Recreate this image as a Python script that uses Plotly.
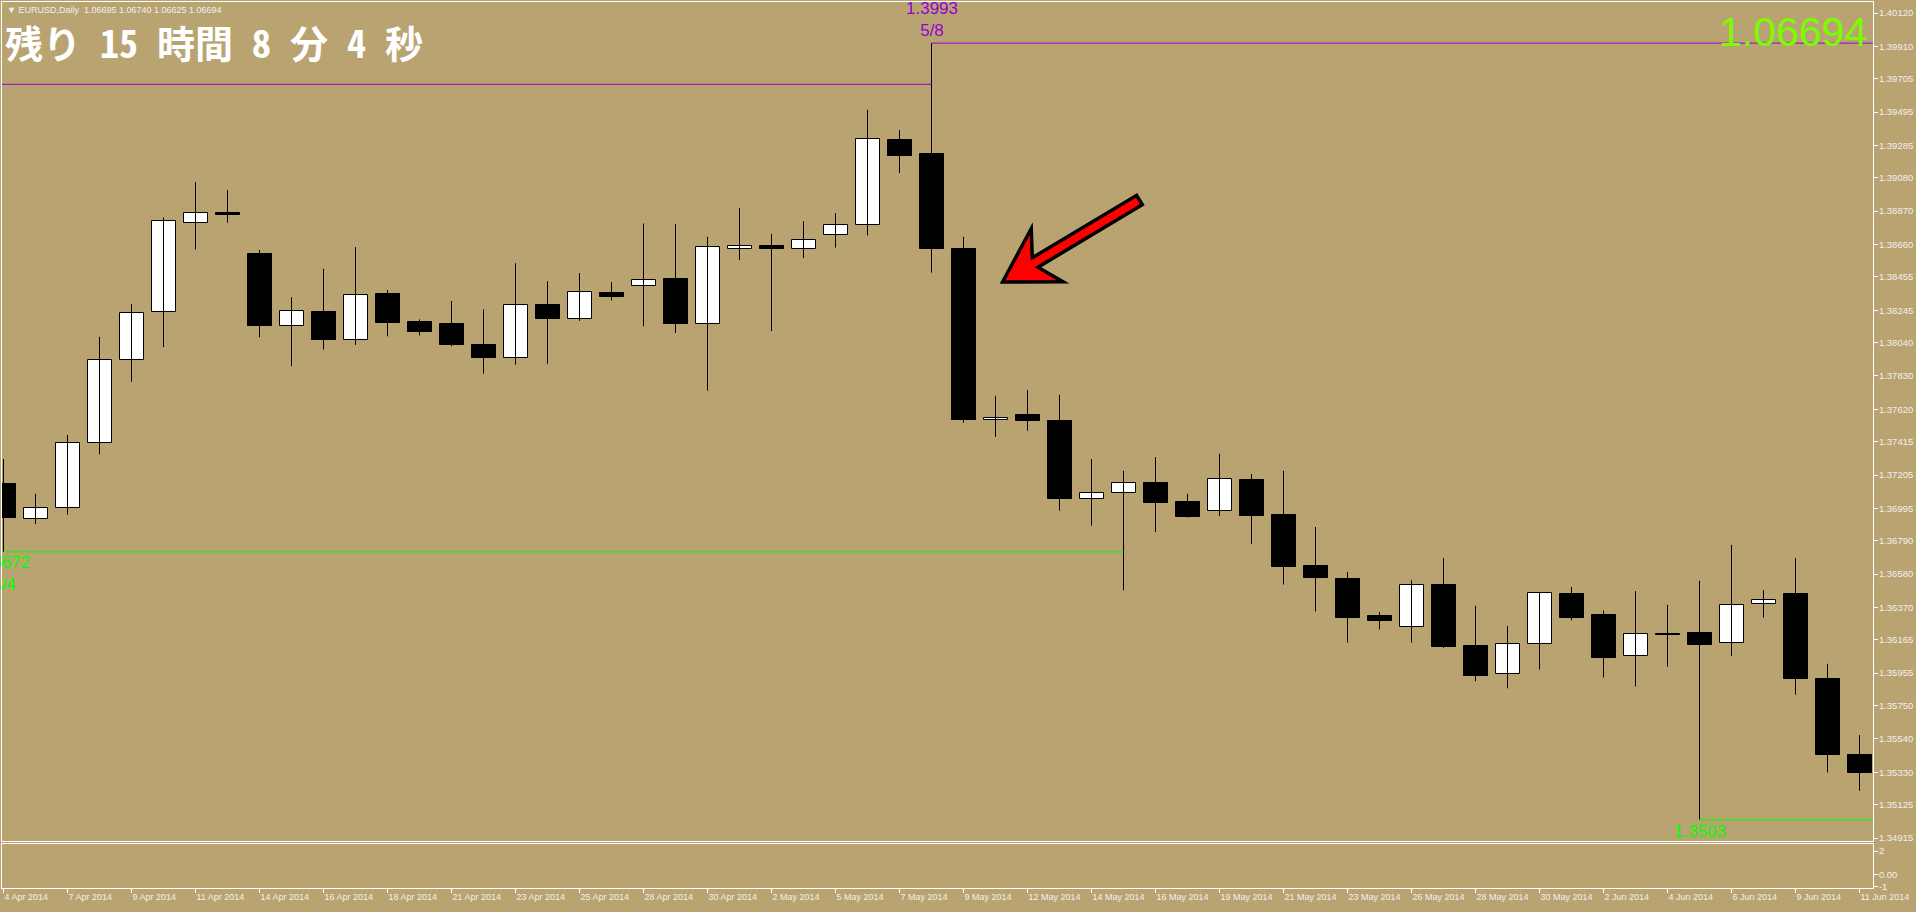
import plotly.graph_objects as go

# ---------------- data ----------------
bar_dates = ["4 Apr 2014", "6 Apr 2014", "7 Apr 2014", "8 Apr 2014", "9 Apr 2014", "10 Apr 2014",
             "11 Apr 2014", "13 Apr 2014", "14 Apr 2014", "15 Apr 2014", "16 Apr 2014", "17 Apr 2014",
             "18 Apr 2014", "20 Apr 2014", "21 Apr 2014", "22 Apr 2014", "23 Apr 2014", "24 Apr 2014",
             "25 Apr 2014", "27 Apr 2014", "28 Apr 2014", "29 Apr 2014", "30 Apr 2014", "1 May 2014",
             "2 May 2014", "4 May 2014", "5 May 2014", "6 May 2014", "7 May 2014", "8 May 2014",
             "9 May 2014", "11 May 2014", "12 May 2014", "13 May 2014", "14 May 2014", "15 May 2014",
             "16 May 2014", "18 May 2014", "19 May 2014", "20 May 2014", "21 May 2014", "22 May 2014",
             "23 May 2014", "25 May 2014", "26 May 2014", "27 May 2014", "28 May 2014", "29 May 2014",
             "30 May 2014", "1 Jun 2014", "2 Jun 2014", "3 Jun 2014", "4 Jun 2014", "5 Jun 2014",
             "6 Jun 2014", "8 Jun 2014", "9 Jun 2014", "10 Jun 2014", "11 Jun 2014"]

opens = [1.37148, 1.36925, 1.36999, 1.37407, 1.37928, 1.38232, 1.38797, 1.38860, 1.38598, 1.38148,
         1.38235, 1.38059, 1.38348, 1.38169, 1.38157, 1.38026, 1.37946, 1.38276, 1.38187, 1.38354,
         1.38396, 1.38443, 1.38160, 1.38634, 1.38649, 1.38634, 1.38717, 1.38780, 1.39318, 1.39229,
         1.38631, 1.37550, 1.37583, 1.37547, 1.37056, 1.37089, 1.37154, 1.37035, 1.36976, 1.37175,
         1.36952, 1.36630, 1.36550, 1.36315, 1.36246, 1.36511, 1.36127, 1.35948, 1.36136, 1.36455,
         1.36324, 1.36065, 1.36205, 1.36208, 1.36145, 1.36392, 1.36455, 1.35919, 1.35439]
highs = [1.37306, 1.37086, 1.37458, 1.38077, 1.38285, 1.38830, 1.39053, 1.39003, 1.38625, 1.38327,
         1.38506, 1.38643, 1.38372, 1.38187, 1.38303, 1.38250, 1.38541, 1.38428, 1.38479, 1.38422,
         1.38792, 1.38789, 1.38708, 1.38890, 1.38726, 1.38806, 1.38857, 1.39509, 1.39381, 1.39930,
         1.38708, 1.37705, 1.37741, 1.37711, 1.37306, 1.37232, 1.37318, 1.37086, 1.37339, 1.37211,
         1.37232, 1.36877, 1.36594, 1.36341, 1.36541, 1.36681, 1.36380, 1.36252, 1.36466, 1.36499,
         1.36350, 1.36472, 1.36386, 1.36538, 1.36764, 1.36478, 1.36681, 1.36014, 1.35564]
lows = [1.36720, 1.36895, 1.36955, 1.37336, 1.37794, 1.38012, 1.38628, 1.38797, 1.38074, 1.37892,
        1.37997, 1.38026, 1.38080, 1.38086, 1.38017, 1.37845, 1.37901, 1.37907, 1.38178, 1.38306,
        1.38143, 1.38101, 1.37738, 1.38562, 1.38113, 1.38574, 1.38640, 1.38717, 1.39110, 1.38482,
        1.37535, 1.37446, 1.37485, 1.36981, 1.36886, 1.36478, 1.36845, 1.36937, 1.36946, 1.36770,
        1.36514, 1.36344, 1.36148, 1.36231, 1.36148, 1.36115, 1.35904, 1.35859, 1.35978, 1.36288,
        1.35928, 1.35871, 1.35996, 1.35030, 1.36062, 1.36306, 1.35820, 1.35329, 1.35213]
closes = [1.36931, 1.36999, 1.37407, 1.37931, 1.38226, 1.38806, 1.38860, 1.38848, 1.38148, 1.38241,
          1.38059, 1.38342, 1.38166, 1.38110, 1.38023, 1.37946, 1.38276, 1.38187, 1.38360, 1.38330,
          1.38434, 1.38160, 1.38643, 1.38649, 1.38634, 1.38687, 1.38783, 1.39324, 1.39220, 1.38628,
          1.37550, 1.37565, 1.37544, 1.37056, 1.37089, 1.37154, 1.37029, 1.36943, 1.37181, 1.36949,
          1.36624, 1.36553, 1.36306, 1.36282, 1.36511, 1.36121, 1.35940, 1.36136, 1.36460, 1.36300,
          1.36053, 1.36202, 1.36198, 1.36130, 1.36386, 1.36416, 1.35916, 1.35436, 1.35326]

price_ticks = [1.40120, 1.39910, 1.39705, 1.39495, 1.39285, 1.39080, 1.38870, 1.38660, 1.38455,
               1.38245, 1.38040, 1.37830, 1.37620, 1.37415, 1.37205, 1.36995, 1.36790, 1.36580,
               1.36370, 1.36165, 1.35955, 1.35750, 1.35540, 1.35330, 1.35125, 1.34915]
time_tick_labels = bar_dates[::2]
sub_ticks = [2, 0, -1]
sub_tick_text = ["2", "0.00", "-1"]

high_level, high_date = 1.3993, "5/8"
low_level = 1.3503
prev_low_level, prev_low_date = 1.3672, "4/4"
prev_high_level = 1.3967
header_text = "▼ EURUSD,Daily  1.06695 1.06740 1.06625 1.06694"
countdown_text = "残り 15 時間 8 分 4 秒"
bid_text = "1.06694"

# arrow (bar index, price): tip and tail
arrow_tip = (31.22, 1.38423)
arrow_tail = (35.50, 1.38940)

# ---------------- styling / layout ----------------
BG = "rgb(185,164,113)"
FG = "#F0F0F0"
W, H = 1916, 912
ML, MR, MT, MB = 2, 43, 2, 24
PW, PH = W - ML - MR, H - MT - MB
MAIN_BOTTOM_PX, SUB_TOP_PX = 841, 844
main_dom = [(MT + PH - MAIN_BOTTOM_PX) / PH, 1.0]
sub_dom = [0.0, (MT + PH - SUB_TOP_PX) / PH]

PXB = 32.0  # px per bar
x0 = -(3.5 - ML) / PXB
x1 = x0 + PW / PXB
kpx = (price_ticks[0] - price_ticks[-1]) / (838 - 13)  # price per px
ymax = price_ticks[0] + (13 - MT) * kpx
ymin = price_ticks[-1] - (MAIN_BOTTOM_PX - 838) * kpx
PXP = 1.0 / kpx

n = len(opens)
idx = list(range(n))

# wicks
wx, wy = [], []
for i in idx:
    wx += [i, i, None]
    wy += [lows[i], highs[i], None]

base = [min(o, c) for o, c in zip(opens, closes)]
height = [max(abs(c - o), 0.00002) for o, c in zip(opens, closes)]
colors = ["white" if c >= o else "black" for o, c in zip(opens, closes)]

fig = go.Figure()
fig.add_trace(go.Scatter(x=wx, y=wy, mode="lines", line=dict(color="black", width=1),
                         hoverinfo="skip", showlegend=False, xaxis="x", yaxis="y"))
fig.add_trace(go.Bar(x=idx, y=height, base=base, width=0.75,
                     marker=dict(color=colors, line=dict(color="black", width=1)),
                     showlegend=False, xaxis="x", yaxis="y",
                     customdata=bar_dates, hoverinfo="skip"))
# empty indicator sub-window
fig.add_trace(go.Scatter(x=[None], y=[None], mode="lines", showlegend=False,
                         xaxis="x2", yaxis="y2", hoverinfo="skip"))

hi_bar = max(idx, key=lambda i: highs[i])
lo_bar = min(idx, key=lambda i: lows[i])
prev_low_end = next(i for i in idx[1:] if lows[i] < prev_low_level)

PURPLE = "#9400D3"
GREEN = "#00FF00"
shapes = [
    dict(type="line", xref="x", yref="y", x0=x0 - 1, x1=hi_bar, y0=prev_high_level, y1=prev_high_level,
         line=dict(color=PURPLE, width=1)),
    dict(type="line", xref="x", yref="y", x0=hi_bar, x1=x1 + 1, y0=high_level, y1=high_level,
         line=dict(color=PURPLE, width=1)),
    dict(type="line", xref="x", yref="y", x0=0, x1=prev_low_end, y0=prev_low_level, y1=prev_low_level,
         line=dict(color=GREEN, width=1)),
    dict(type="line", xref="x", yref="y", x0=lo_bar, x1=x1 + 1, y0=low_level, y1=low_level,
         line=dict(color=GREEN, width=1)),
]

# arrow polygon built in pixel space, converted to data coords
dxp = (arrow_tail[0] - arrow_tip[0]) * PXB
dyp = -(arrow_tail[1] - arrow_tip[1]) * PXP
L = (dxp ** 2 + dyp ** 2) ** 0.5
ux, uy = dxp / L, dyp / L
nx, ny = -uy, ux
local = [(0, 0), (52, -31), (38, -5.5), (L, -5.5), (L, 5.5), (38, 5.5), (52, 31)]
pts = []
for a, b in local:
    px = a * ux + b * nx
    py = a * uy + b * ny
    pts.append((arrow_tip[0] + px / PXB, arrow_tip[1] - py / PXP))
path = "M " + " L ".join(f"{x:.5f},{y:.6f}" for x, y in pts) + " Z"
shapes.append(dict(type="path", xref="x", yref="y", path=path, fillcolor="#FF0000",
                   line=dict(color="black", width=3.5)))


def pxx(X):
    return (X - ML) / PW


def pxy(Y):
    return (MT + PH - Y) / PH


lab_font = dict(family="Liberation Sans, Arial, sans-serif", size=17)
annotations = [
    dict(text=header_text, xref="paper", yref="paper", x=pxx(5), y=pxy(10), xanchor="left",
         yanchor="middle", showarrow=False, font=dict(family="Liberation Sans, Arial", size=9, color=FG)),
    dict(text=countdown_text, xref="paper", yref="paper", x=pxx(3), y=pxy(42), xanchor="left",
         yanchor="middle", showarrow=False,
         font=dict(family="Noto Sans Mono CJK JP, Noto Sans CJK JP", size=38, color="white", weight="bold")),
    dict(text=bid_text, xref="paper", yref="paper", x=pxx(1869), y=pxy(32), xanchor="right",
         yanchor="middle", showarrow=False,
         font=dict(family="Liberation Sans, Arial", size=41, color="#7CFC00")),
    dict(text=f"{high_level:.4f}<br>{high_date}", xref="x", yref="y", x=hi_bar, y=high_level,
         yanchor="bottom", yshift=1, showarrow=False, font=dict(lab_font, color=PURPLE)),
    dict(text=f"{low_level:.4f}", xref="x", yref="y", x=lo_bar, y=low_level, yshift=-12,
         showarrow=False, font=dict(lab_font, color=GREEN)),
    dict(text=f"{prev_low_level:.4f}<br>{prev_low_date}", xref="x", yref="y", x=0, y=prev_low_level,
         yanchor="top", yshift=1, showarrow=False, font=dict(lab_font, color=GREEN)),
]

tick_font = dict(family="Liberation Sans, Arial, sans-serif", size=9, color=FG)
ytick_font = dict(family="Liberation Sans, Arial, sans-serif", size=9.5, color=FG)
axis_common = dict(showgrid=False, zeroline=False, showline=True, linecolor="white", linewidth=1,
                   mirror=True, tickcolor="white", ticklen=4, tickwidth=1, automargin=False)

fig.update_layout(
    width=W, height=H, margin=dict(l=ML, r=MR, t=MT, b=MB, pad=0, autoexpand=False),
    paper_bgcolor=BG, plot_bgcolor=BG, showlegend=False, hovermode=False,
    bargap=0,
    xaxis=dict(axis_common, domain=[0, 1], range=[x0, x1], anchor="y", showticklabels=False, ticks=""),
    yaxis=dict(axis_common, domain=main_dom, range=[ymin, ymax], side="right", anchor="x",
               tickvals=price_ticks, ticktext=[f"{v:.5f}" for v in price_ticks], ticks="outside",
               tickfont=ytick_font, ticklabelstandoff=-1),
    xaxis2=dict(axis_common, domain=[0, 1], range=[x0, x1], anchor="y2", matches="x",
                tickvals=idx[::2], ticktext=time_tick_labels, ticks="outside", tickangle=0,
                ticklabelposition="outside right", tickfont=tick_font),
    yaxis2=dict(axis_common, domain=sub_dom, range=[-1.15, 2.6], side="right", anchor="x2",
                tickvals=sub_ticks, ticktext=sub_tick_text, ticks="outside", tickfont=ytick_font,
                ticklabelstandoff=-1),
    shapes=shapes, annotations=annotations,
)

fig.write_html("out.html", config={"displayModeBar": False},
               post_script="document.body.style.margin='0';document.body.style.overflow='hidden';")
